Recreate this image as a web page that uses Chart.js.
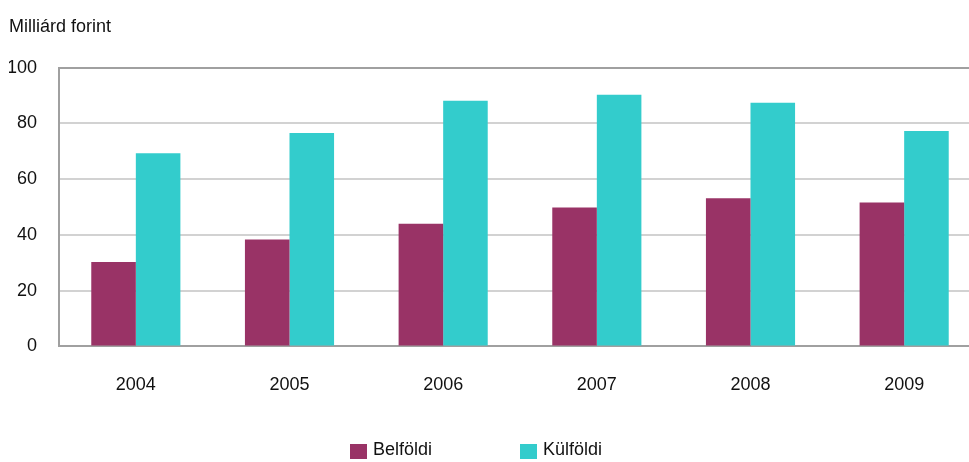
<!DOCTYPE html>
<html>
<head>
    <meta charset="utf-8">
    <title>Belföldi és külföldi</title>
    <style>
        body {
            margin: 0;
            overflow: hidden;
            background: #fff;
            font-family: 'Liberation Sans', Arial, sans-serif;
        }
        .wrap {
            position: relative;
            width: 969px;
            height: 462px;
            overflow: hidden;
        }
        #legend {
            position: absolute;
            top: 439px;
            left: 350px;
            display: flex;
            font-size: 18px;
            color: #111;
        }
        .item {
            display: flex;
            align-items: center;
            margin-right: 88px;
        }
        .box {
            width: 17px;
            height: 15px;
            margin-right: 6px;
            margin-top: 4px;
        }
    </style>
    <script src="https://cdn.jsdelivr.net/npm/chart.js"></script>
</head>
<body>
    <div class="wrap">
        <canvas id="chart" width="982" height="462"></canvas>
        <div id="legend"></div>
    </div>

    <script>
        const years = ['2004', '2005', '2006', '2007', '2008', '2009'];
        const belfoldi = [30.3, 38.3, 44.0, 49.8, 53.1, 51.6];
        const kulfoldi = [69.3, 76.5, 88.1, 90.3, 87.4, 77.3];
        const seriesNames = ['Belföldi', 'Külföldi'];
        const seriesColors = ['#993366', '#33CCCC'];

        const fontFamily = "'Liberation Sans', Arial, sans-serif";

        const ctx = document.getElementById('chart').getContext('2d');
        const chart = new Chart(ctx, {
            type: 'bar',
            data: {
                labels: years,
                datasets: [
                    { label: seriesNames[0], data: belfoldi, backgroundColor: seriesColors[0] },
                    { label: seriesNames[1], data: kulfoldi, backgroundColor: seriesColors[1] }
                ]
            },
            options: {
                responsive: false,
                animation: false,
                layout: { padding: { left: 9, right: 1, top: 0, bottom: 38 } },
                datasets: { bar: { categoryPercentage: 0.58, barPercentage: 1 } },
                scales: {
                    x: {
                        grid: { display: false, drawTicks: false },
                        border: { color: '#a0a0a0', width: 2 },
                        ticks: { color: '#111', padding: 28, font: { family: fontFamily, size: 18 } }
                    },
                    y: {
                        min: 0,
                        max: 100,
                        afterFit: s => { s.width = 50; },
                        ticks: { stepSize: 20, color: '#111', padding: 22, font: { family: fontFamily, size: 18 } },
                        grid: {
                            drawTicks: false,
                            lineWidth: 2,
                            color: c => c.tick && c.tick.value === 100 ? '#a0a0a0' : '#d2d2d2'
                        },
                        border: { color: '#a0a0a0', width: 2 }
                    }
                },
                plugins: {
                    legend: { display: false },
                    tooltip: { enabled: false },
                    title: {
                        display: true,
                        text: 'Milliárd forint',
                        align: 'start',
                        color: '#111',
                        font: { family: fontFamily, size: 18, weight: 'normal' },
                        padding: { top: 16, bottom: 30 }
                    }
                }
            }
        });

        // legend below the chart
        const legend = document.getElementById('legend');
        chart.data.datasets.forEach(ds => {
            const item = document.createElement('div');
            item.className = 'item';
            item.innerHTML = '<span class="box" style="background:' + ds.backgroundColor + '"></span>' + ds.label;
            legend.appendChild(item);
        });
    </script>
</body>
</html>
